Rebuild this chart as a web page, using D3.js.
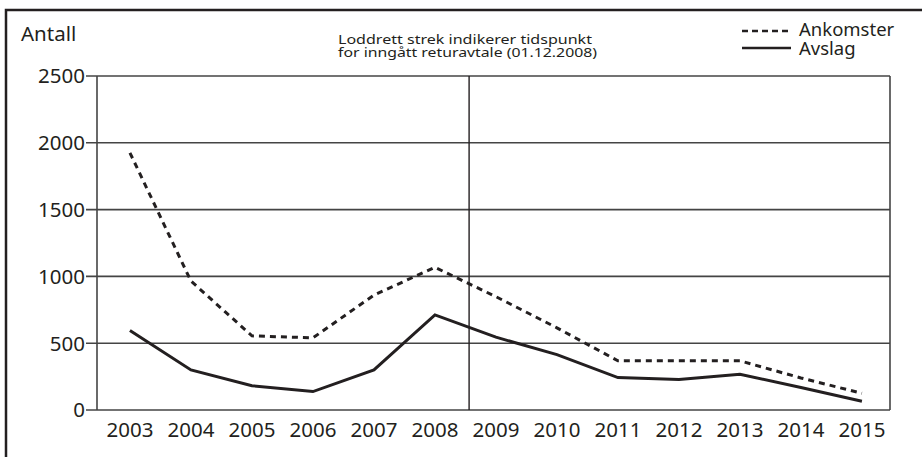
<!DOCTYPE html>
<html>
<head>
<meta charset="utf-8">
<script src="https://cdn.jsdelivr.net/npm/d3@7"></script>
<style>
  body { margin: 0; background: #fff; }
  svg { display: block; font-family: "Noto Sans", "Open Sans", sans-serif; }
</style>
</head>
<body>
<div id="chart"></div>
<script>
(function () {
  const years = [2003, 2004, 2005, 2006, 2007, 2008, 2009, 2010, 2011, 2012, 2013, 2014, 2015];
  const ankomster = [1925, 965, 555, 540, 860, 1068, 848, 615, 368, 368, 368, 240, 125];
  const avslag = [595, 300, 182, 138, 300, 712, 545, 415, 243, 228, 268, 168, 65];
  const yTicks = [0, 500, 1000, 1500, 2000, 2500];
  const returavtale = 2008.56; // 01.12.2008, where the vertical line sits

  const ink = "#231f20";
  const grid = "#444";

  const svg = d3.select("#chart")
    .append("svg")
    .attr("width", 922)
    .attr("height", 457);

  // outer frame (top + left)
  svg.append("path")
    .attr("d", "M6,457 V10 H922")
    .attr("fill", "none")
    .attr("stroke", ink)
    .attr("stroke-width", 2.5);

  const margin = { top: 76, right: 32, bottom: 47, left: 97 };
  const width = 922 - margin.left - margin.right;
  const height = 457 - margin.top - margin.bottom;

  const g = svg.append("g")
    .attr("transform", "translate(" + margin.left + "," + margin.top + ")");

  const xPositionScale = d3.scaleLinear().domain([2002.46, 2015.46]).range([0, width]);
  const yPositionScale = d3.scaleLinear().domain([0, 2500]).range([height, 0]);

  // gridlines
  g.selectAll(".grid")
    .data(yTicks)
    .enter().append("line")
    .attr("x1", -11)
    .attr("x2", width)
    .attr("y1", d => yPositionScale(d))
    .attr("y2", d => yPositionScale(d))
    .attr("stroke", grid)
    .attr("stroke-width", 1.6);

  // plot sides
  g.append("line").attr("x1", 0).attr("x2", 0).attr("y1", 0).attr("y2", height)
    .attr("stroke", grid).attr("stroke-width", 1.6);
  g.append("line").attr("x1", width).attr("x2", width).attr("y1", 0).attr("y2", height)
    .attr("stroke", grid).attr("stroke-width", 1.6);

  // the agreement line
  g.append("line")
    .attr("x1", xPositionScale(returavtale))
    .attr("x2", xPositionScale(returavtale))
    .attr("y1", 0)
    .attr("y2", height)
    .attr("stroke", ink)
    .attr("stroke-width", 1.4);

  // y labels
  g.selectAll(".ylab")
    .data(yTicks)
    .enter().append("text")
    .attr("x", -12)
    .attr("y", d => yPositionScale(d))
    .attr("dy", "0.36em")
    .attr("text-anchor", "end")
    .attr("font-size", "20.5px")
    .attr("fill", ink)
    .text(d => d);

  // x labels
  g.selectAll(".xlab")
    .data(years)
    .enter().append("text")
    .attr("x", d => xPositionScale(d))
    .attr("y", height + 27)
    .attr("text-anchor", "middle")
    .attr("font-size", "20.5px")
    .attr("fill", ink)
    .text(d => d);

  const line = d3.line()
    .x((d, i) => xPositionScale(years[i]))
    .y(d => yPositionScale(d));

  g.append("path")
    .datum(ankomster)
    .attr("d", line)
    .attr("fill", "none")
    .attr("stroke", ink)
    .attr("stroke-width", 3)
    .attr("stroke-dasharray", "6,5");

  g.append("path")
    .datum(avslag)
    .attr("d", line)
    .attr("fill", "none")
    .attr("stroke", ink)
    .attr("stroke-width", 3);

  svg.append("text")
    .attr("x", 21)
    .attr("y", 41)
    .attr("font-size", "20.5px")
    .attr("fill", ink)
    .text("Antall");

  // note, stretched a bit to match the wide face in the original
  const note = svg.append("g")
    .attr("font-size", "12.5px")
    .attr("fill", ink);
  note.append("text").attr("x", 338).attr("y", 44)
    .attr("textLength", 254).attr("lengthAdjust", "spacingAndGlyphs")
    .text("Loddrett strek indikerer tidspunkt");
  note.append("text").attr("x", 338).attr("y", 57)
    .attr("textLength", 259).attr("lengthAdjust", "spacingAndGlyphs")
    .text("for inngått returavtale (01.12.2008)");

  // legend
  const legend = [
    { name: "Ankomster", dash: "6,4", y: 31, base: 36 },
    { name: "Avslag", dash: null, y: 48, base: 55 }
  ];
  const lg = svg.selectAll(".legend")
    .data(legend)
    .enter().append("g");
  lg.append("line")
    .attr("x1", 742)
    .attr("x2", 791)
    .attr("y1", d => d.y)
    .attr("y2", d => d.y)
    .attr("stroke", ink)
    .attr("stroke-width", 2.5)
    .attr("stroke-dasharray", d => d.dash);
  lg.append("text")
    .attr("x", 799)
    .attr("y", d => d.base)
    .attr("font-size", "18.5px")
    .attr("fill", ink)
    .text(d => d.name);
})();
</script>
</body>
</html>
